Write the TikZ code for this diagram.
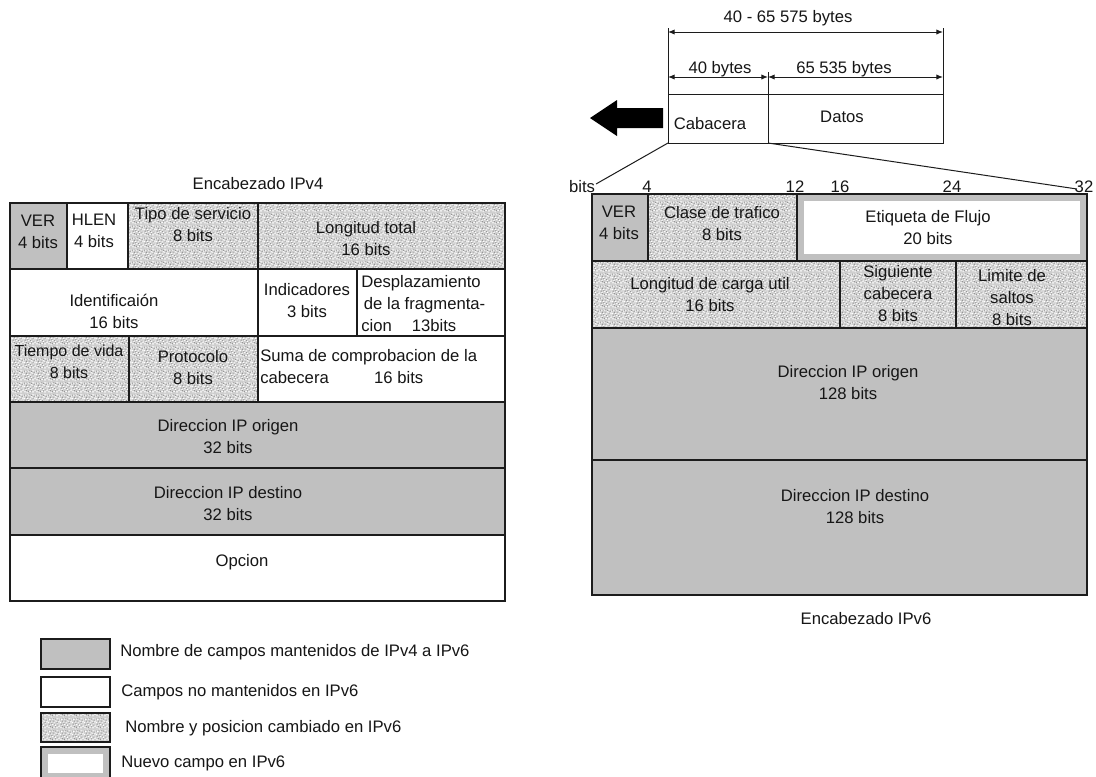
\documentclass[tikz,border=0pt]{standalone}
\usepackage{fontspec}
\setmainfont{Liberation Sans}
\usetikzlibrary{patterns,arrows.meta}

\definecolor{keptgrey}{RGB}{192,192,192}
\definecolor{rulecol}{RGB}{28,28,28}
\definecolor{textcol}{RGB}{22,22,22}
\definecolor{speckbase}{RGB}{206,206,206}
\definecolor{speckdark}{RGB}{150,150,150}

\newcommand\fieldfont{\fontsize{12.5pt}{16.5pt}\selectfont}

% mottled tile used for the renamed / moved fields
\pgfdeclarepatterninherentlycolored{speckle}{\pgfpointorigin}{\pgfqpoint{9pt}{9pt}}{\pgfqpoint{9pt}{9pt}}{%
  \pgfsetfillcolor{white}%
  \pgfpathrectangle{\pgfqpoint{0.3pt}{0.6pt}}{\pgfqpoint{1.1pt}{1.0pt}}%
  \pgfpathrectangle{\pgfqpoint{2.1pt}{0.2pt}}{\pgfqpoint{0.8pt}{0.9pt}}%
  \pgfpathrectangle{\pgfqpoint{4.4pt}{1.0pt}}{\pgfqpoint{1.2pt}{0.8pt}}%
  \pgfpathrectangle{\pgfqpoint{6.8pt}{0.4pt}}{\pgfqpoint{0.9pt}{1.1pt}}%
  \pgfpathrectangle{\pgfqpoint{8.0pt}{1.9pt}}{\pgfqpoint{0.8pt}{0.8pt}}%
  \pgfpathrectangle{\pgfqpoint{1.2pt}{2.6pt}}{\pgfqpoint{0.9pt}{1.0pt}}%
  \pgfpathrectangle{\pgfqpoint{3.3pt}{3.1pt}}{\pgfqpoint{1.1pt}{0.8pt}}%
  \pgfpathrectangle{\pgfqpoint{5.6pt}{2.5pt}}{\pgfqpoint{0.8pt}{1.1pt}}%
  \pgfpathrectangle{\pgfqpoint{7.2pt}{3.6pt}}{\pgfqpoint{1.1pt}{0.9pt}}%
  \pgfpathrectangle{\pgfqpoint{0.1pt}{4.5pt}}{\pgfqpoint{0.8pt}{1.2pt}}%
  \pgfpathrectangle{\pgfqpoint{2.4pt}{5.0pt}}{\pgfqpoint{1.2pt}{0.8pt}}%
  \pgfpathrectangle{\pgfqpoint{4.6pt}{4.4pt}}{\pgfqpoint{0.9pt}{0.9pt}}%
  \pgfpathrectangle{\pgfqpoint{6.1pt}{5.5pt}}{\pgfqpoint{0.8pt}{1.0pt}}%
  \pgfpathrectangle{\pgfqpoint{8.1pt}{5.2pt}}{\pgfqpoint{0.9pt}{0.8pt}}%
  \pgfpathrectangle{\pgfqpoint{1.0pt}{6.9pt}}{\pgfqpoint{1.1pt}{0.9pt}}%
  \pgfpathrectangle{\pgfqpoint{3.5pt}{7.2pt}}{\pgfqpoint{0.8pt}{1.1pt}}%
  \pgfpathrectangle{\pgfqpoint{5.3pt}{6.8pt}}{\pgfqpoint{1.2pt}{0.8pt}}%
  \pgfpathrectangle{\pgfqpoint{7.4pt}{7.6pt}}{\pgfqpoint{0.9pt}{0.9pt}}%
  \pgfpathrectangle{\pgfqpoint{0.5pt}{8.3pt}}{\pgfqpoint{0.7pt}{0.7pt}}%
  \pgfpathrectangle{\pgfqpoint{2.6pt}{8.4pt}}{\pgfqpoint{0.6pt}{0.6pt}}%
  \pgfpathrectangle{\pgfqpoint{4.5pt}{8.6pt}}{\pgfqpoint{0.5pt}{0.4pt}}%
  \pgfpathrectangle{\pgfqpoint{6.3pt}{8.2pt}}{\pgfqpoint{0.7pt}{0.7pt}}%
  \pgfusepath{fill}%
  \pgfsetfillcolor{speckdark}%
  \pgfpathrectangle{\pgfqpoint{1.5pt}{1.5pt}}{\pgfqpoint{0.8pt}{0.8pt}}%
  \pgfpathrectangle{\pgfqpoint{3.2pt}{0.9pt}}{\pgfqpoint{0.7pt}{0.9pt}}%
  \pgfpathrectangle{\pgfqpoint{5.5pt}{1.4pt}}{\pgfqpoint{0.9pt}{0.7pt}}%
  \pgfpathrectangle{\pgfqpoint{7.6pt}{2.7pt}}{\pgfqpoint{0.8pt}{0.8pt}}%
  \pgfpathrectangle{\pgfqpoint{0.6pt}{3.5pt}}{\pgfqpoint{0.9pt}{0.8pt}}%
  \pgfpathrectangle{\pgfqpoint{2.8pt}{4.0pt}}{\pgfqpoint{0.7pt}{0.8pt}}%
  \pgfpathrectangle{\pgfqpoint{4.9pt}{3.4pt}}{\pgfqpoint{0.8pt}{0.7pt}}%
  \pgfpathrectangle{\pgfqpoint{6.9pt}{4.6pt}}{\pgfqpoint{0.9pt}{0.8pt}}%
  \pgfpathrectangle{\pgfqpoint{1.6pt}{5.8pt}}{\pgfqpoint{0.8pt}{0.9pt}}%
  \pgfpathrectangle{\pgfqpoint{3.9pt}{5.9pt}}{\pgfqpoint{0.7pt}{0.7pt}}%
  \pgfpathrectangle{\pgfqpoint{5.8pt}{7.4pt}}{\pgfqpoint{0.8pt}{0.8pt}}%
  \pgfpathrectangle{\pgfqpoint{7.8pt}{6.6pt}}{\pgfqpoint{0.7pt}{0.9pt}}%
  \pgfpathrectangle{\pgfqpoint{0.2pt}{7.6pt}}{\pgfqpoint{0.6pt}{0.7pt}}%
  \pgfpathrectangle{\pgfqpoint{2.2pt}{7.8pt}}{\pgfqpoint{0.8pt}{0.6pt}}%
  \pgfpathrectangle{\pgfqpoint{4.3pt}{7.9pt}}{\pgfqpoint{0.7pt}{0.8pt}}%
  \pgfusepath{fill}%
}

\tikzset{
  cellframe/.style={draw=rulecol, line width=1.1pt},
  kept/.style={cellframe, fill=keptgrey},
  dropped/.style={cellframe, fill=white},
  moved/.style={cellframe, preaction={fill=speckbase}, pattern=speckle},
  lbl/.style={inner sep=0pt, align=center, font=\fieldfont, text=textcol},
  lbll/.style={lbl, align=left, anchor=west},
  thinline/.style={draw=rulecol, line width=0.75pt},
  dimline/.style={thinline, {Latex[length=5pt,width=4pt]}-{Latex[length=5pt,width=4pt]}},
}

% field that is new in IPv6: grey frame around a white panel
\newcommand\newfieldbox[4]{%
  \fill[keptgrey] (#1,#2) rectangle (#3,#4);
  \fill[white] ({#1+7},{#2+7}) rectangle ({#3-7},{#4-7});
  \draw[cellframe] (#1,#2) rectangle (#3,#4);
}

\begin{document}
\begin{tikzpicture}[x=0.75pt, y=-0.75pt]
\useasboundingbox (0,0) rectangle (1096,776);
\fill[white] (0,0) rectangle (1096,776);

% ---------- IPv4 header ----------
\node[lbl] (v4title) at (258,184) {Encabezado IPv4};

\draw[kept]    (10,203)  rectangle (67,269);
\draw[dropped] (67,203)  rectangle (128,269);
\draw[moved]   (128,203) rectangle (258,269);
\draw[moved]   (258,203) rectangle (505,269);
\draw[dropped] (10,269)  rectangle (258,336);
\draw[dropped] (258,269) rectangle (357,336);
\draw[dropped] (357,269) rectangle (505,336);
\draw[moved]   (10,336)  rectangle (129,402);
\draw[moved]   (129,336) rectangle (258,402);
\draw[dropped] (258,336) rectangle (505,402);
\draw[kept]    (10,402)  rectangle (505,468);
\draw[kept]    (10,468)  rectangle (505,535);
\draw[dropped] (10,535)  rectangle (505,601);

\node[lbl] (v4ver)  at (38,232)  {VER\\4 bits};
\node[lbl] (v4hlen) at (94,231)  {HLEN\\4 bits};
\node[lbl] (v4tos)  at (193,225) {Tipo de servicio\\8 bits};
\node[lbl] (v4len)  at (366,239) {Longitud total\\16 bits};
\node[lbl] (v4id)   at (114,311) {Identificaión\\16 bits};
\node[lbl] (v4flag) at (307,301) {Indicadores\\3 bits};
\node[lbll] (v4frag) at (361,304) {Desplazamiento\\\hspace{2pt}de la fragmenta-\\cion\hspace{15pt}13bits};
\node[lbl, font=\fontsize{12pt}{16.5pt}\selectfont] (v4ttl) at (69,362) {Tiempo de vida\\8 bits};
\node[lbl] (v4proto) at (193,368) {Protocolo\\8 bits};
\node[lbll] (v4sum) at (260,367) {Suma de comprobacion de la\\cabecera\hspace{34pt}16 bits};
\node[lbl] (v4src) at (228,437) {Direccion IP origen\\32 bits};
\node[lbl] (v4dst) at (228,504) {Direccion IP destino\\32 bits};
\node[lbl] (v4opt) at (242,562) {Opcion};

% ---------- packet: header + data ----------
\node[lbl] (pkttotal) at (788,18) {40 - 65 575 bytes};
\node[lbl] (pkthdr)   at (720,69) {40 bytes};
\node[lbl] (pktdata)  at (844,69) {65 535 bytes};

\draw[thinline] (668,28) -- (668,94);
\draw[thinline] (943,28) -- (943,94);
\draw[thinline] (768,72) -- (768,94);
\draw[dimline] (668,32) -- (943,32);
\draw[dimline] (668,77) -- (768,77);
\draw[dimline] (768,77) -- (943,77);

\draw[thinline] (668,94) rectangle (943,143);
\draw[thinline] (768,94) -- (768,143);
\node[lbl] (cab)   at (710,124) {Cabacera};
\node[lbl] (datos) at (842,117) {Datos};

% block arrow pointing left
\fill[black] (590,118) -- (617,100) -- (617,108) -- (663,108) -- (663,128)
  -- (617,128) -- (617,136) -- cycle;

\coordinate (cabSW) at (668,143);
\coordinate (cabSE) at (768,143);
\coordinate (v6left) at (596,184);
\coordinate (v6right) at (1077,189);
\draw[thinline] (cabSW) -- (v6left);
\draw[thinline] (cabSE) -- (v6right);

% ---------- IPv6 header ----------
\node[lbl] (b0)  at (582,187) {bits};
\node[lbl] (b4)  at (647,187) {4};
\node[lbl] (b12) at (795,187) {12};
\node[lbl] (b16) at (840,187) {16};
\node[lbl] (b24) at (952,187) {24};
\node[lbl] (b32) at (1084,187) {32};

\draw[kept]  (592,194) rectangle (648,261);
\draw[moved] (648,194) rectangle (797,261);
\newfieldbox{797}{194}{1087}{261}
\draw[moved] (592,261) rectangle (840,328);
\draw[moved] (840,261) rectangle (956,328);
\draw[moved] (956,261) rectangle (1087,328);
\draw[kept]  (592,328) rectangle (1087,460);
\draw[kept]  (592,460) rectangle (1087,595);

\node[lbl] (v6ver)   at (619,223)  {VER\\4 bits};
\node[lbl] (v6class) at (722,224)  {Clase de trafico\\8 bits};
\node[lbl] (v6flow)  at (928,228)  {Etiqueta de Flujo\\20 bits};
\node[lbl] (v6len)   at (710,295)  {Longitud de carga util\\16 bits};
\node[lbl] (v6next)  at (898,294)  {Siguiente\\cabecera\\8 bits};
\node[lbl] (v6hop)   at (1012,298) {Limite de\\saltos\\8 bits};
\node[lbl] (v6src)   at (848,383)  {Direccion IP origen\\128 bits};
\node[lbl] (v6dst)   at (855,507)  {Direccion IP destino\\128 bits};
\node[lbl] (v6title) at (866,619)  {Encabezado IPv6};

% ---------- legend ----------
\draw[kept]    (41,639) rectangle (110,669);
\draw[dropped] (41,677) rectangle (110,707);
\draw[moved]   (41,713) rectangle (110,742);
\newfieldbox{41}{747}{110}{780}
\node[lbll] (lg1) at (120,652) {Nombre de campos mantenidos de IPv4 a IPv6};
\node[lbll] (lg2) at (121,692) {Campos no mantenidos en IPv6};
\node[lbll] (lg3) at (125,728) {Nombre y posicion cambiado en IPv6};
\node[lbll] (lg4) at (121,763) {Nuevo campo en IPv6};
\end{tikzpicture}
\end{document}
